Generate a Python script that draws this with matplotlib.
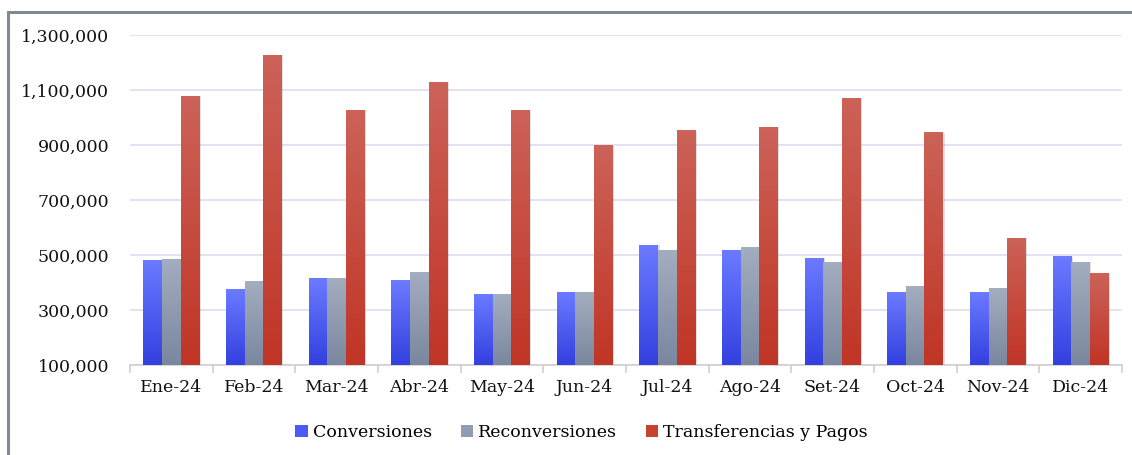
import numpy as np
import matplotlib.pyplot as plt
from matplotlib.colors import to_rgb
from matplotlib.patches import Patch, Rectangle
from matplotlib.ticker import FuncFormatter, FixedLocator

meses = ["Ene-24", "Feb-24", "Mar-24", "Abr-24", "May-24", "Jun-24",
         "Jul-24", "Ago-24", "Set-24", "Oct-24", "Nov-24", "Dic-24"]
conversiones = [481000, 373000, 413000, 409000, 355000, 362000,
                536000, 518000, 489000, 362000, 365000, 493000]
reconversiones = [485000, 405000, 413000, 435000, 358000, 365000,
                  518000, 529000, 471000, 387000, 380000, 474000]
transferencias = [1078000, 1227000, 1027000, 1129000, 1024000, 898000,
                  951000, 965000, 1071000, 944000, 561000, 431000]

plt.rcParams['font.family'] = ['DejaVu Serif']

fig = plt.figure(figsize=(11.32, 4.55), dpi=100)
ax = fig.add_axes([0.1148, 0.1978, 0.8762, 0.7252])

# marco gris alrededor del grafico
fig.patches.append(Rectangle((8 / 1132, -0.1), 1.2, 1 - 12 / 455 + 0.1,
                             transform=fig.transFigure, fill=False,
                             edgecolor="#7f8b90", linewidth=2.2))

x = np.arange(len(meses))
w = 0.225
series = [
    (conversiones, -w, ("#6b7aff", "#3340e0"), "#4a5cf5", "Conversiones"),
    (reconversiones, 0, ("#a3adc0", "#7a879e"), "#909cb3", "Reconversiones"),
    (transferencias, w, ("#cc6258", "#c03526"), "#c9412f", "Transferencias y Pagos"),
]

ymin, ymax = 100000, 1300000
grad = np.linspace(0, 1, 64).reshape(-1, 1, 1)
handles = []
for vals, off, (c_top, c_bot), c_leg, nombre in series:
    top = np.array(to_rgb(c_top))
    bot = np.array(to_rgb(c_bot))
    img = top + (bot - top) * grad
    bars = ax.bar(x + off, [v - ymin for v in vals], w, bottom=ymin,
                  color="none", edgecolor="none", zorder=3)
    for b, v in zip(bars, vals):
        x0 = b.get_x()
        # sombra
        ax.add_patch(Rectangle((x0 + 0.02, ymin), w, v - ymin,
                               facecolor="#000000", alpha=0.12,
                               edgecolor="none", zorder=2))
        ax.imshow(img, extent=[x0, x0 + w, ymin, v], origin="upper",
                  aspect="auto", zorder=3, interpolation="bilinear")
    handles.append(Patch(facecolor=c_leg, label=nombre))

ax.set_xlim(-0.5, len(meses) - 0.5)
ax.set_ylim(ymin, ymax)
ax.set_aspect("auto")

ax.set_yticks(np.arange(100000, 1300001, 200000))
ax.yaxis.set_major_formatter(FuncFormatter(lambda v, p: f"{int(v):,}"))
ax.yaxis.grid(True, color="#dedcf0", linewidth=1.2, zorder=0)
ax.tick_params(axis="y", length=0, labelsize=12.5, pad=15, colors="#111111")

ax.set_xticks(x)
ax.set_xticklabels(meses)
ax.tick_params(axis="x", length=0, labelsize=12.5, pad=10, colors="#111111")
ax.xaxis.set_minor_locator(FixedLocator(np.arange(-0.5, len(meses), 1)))
ax.tick_params(axis="x", which="minor", length=6, color="#d0d0d0", width=1.2)

for s in ["top", "right", "left"]:
    ax.spines[s].set_visible(False)
ax.spines["bottom"].set_color("#d0d0d0")
ax.spines["bottom"].set_linewidth(1.2)

fig.legend(handles=handles, loc="center", bbox_to_anchor=(0.5137, 0.05),
           ncol=3, frameon=False, fontsize=12.5, handlelength=0.7,
           handleheight=0.7, handletextpad=0.3, columnspacing=1.65)

fig.savefig("out.png", dpi=100)
